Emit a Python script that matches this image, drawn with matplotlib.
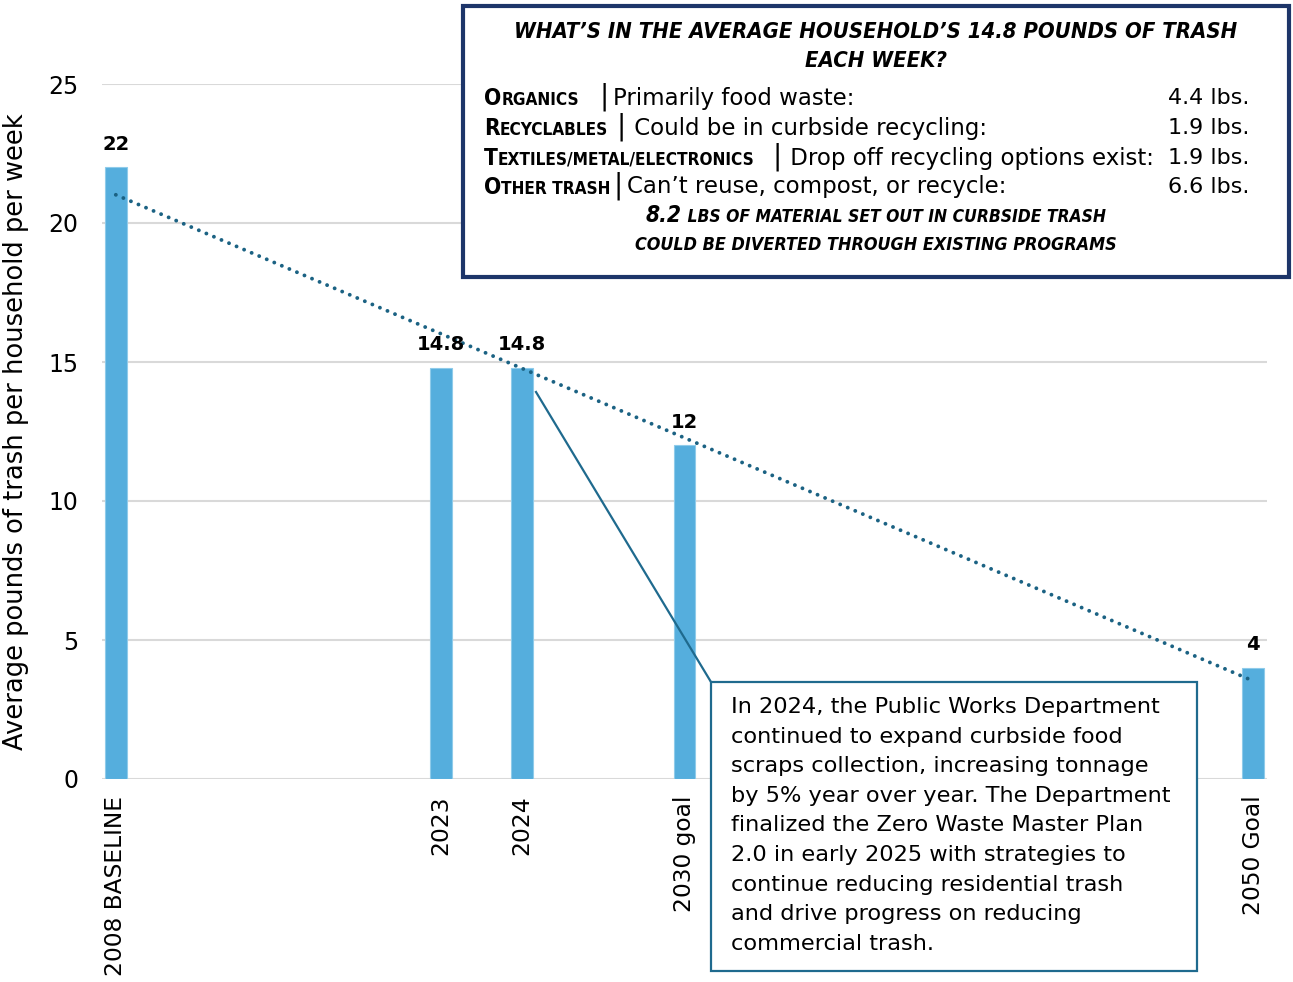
import numpy as np
import matplotlib
matplotlib.use("Agg")
import matplotlib.pyplot as plt
from matplotlib.patches import Rectangle
from matplotlib.lines import Line2D
from matplotlib.text import Annotation

# ---- data -------------------------------------------------------------
# Category slots along the x axis (blank slots keep the time spacing)
slot_labels = ["2008 BASELINE", "", "", "", "2023", "2024", "", "2030 goal",
               "", "", "", "", "", "", "2050 Goal"]
slot_values = [22, None, None, None, 14.8, 14.8, None, 12,
               None, None, None, None, None, None, 4]
value_labels = ["22", "", "", "", "14.8", "14.8", "", "12",
                "", "", "", "", "", "", "4"]

breakdown_names = ["Organics", "Recyclables", "Textiles/metal/electronics", "Other trash"]
breakdown_desc = ["Primarily food waste:", " Could be in curbside recycling:",
                  " Drop off recycling options exist:", "Can\u2019t reuse, compost, or recycle:"]
breakdown_lbs = [4.4, 1.9, 1.9, 6.6]
diverted_lbs = 8.2

callout_text = ("In 2024, the Public Works Department\n"
                "continued to expand curbside food\n"
                "scraps collection, increasing tonnage\n"
                "by 5% year over year. The Department\n"
                "finalized the Zero Waste Master Plan\n"
                "2.0 in early 2025 with strategies to\n"
                "continue reducing residential trash\n"
                "and drive progress on reducing\n"
                "commercial trash.")

# ---- style ------------------------------------------------------------
BAR = "#55AEDD"
TREND = "#1B6283"
NAVY = "#1D3569"
CALLOUT = "#1F6A8E"
GRID = "#D9D9D9"
FONT = ["DejaVu Sans"]

W, H = 1293, 982
fig = plt.figure(figsize=(W / 100, H / 100), dpi=100)


def fx(px):
    return px / W


def fy(py):
    return 1 - py / H


ax = fig.add_axes([fx(102), fy(779), fx(1267) - fx(102), fy(84) - fy(779)])

x = np.arange(len(slot_labels))
mask = np.array([v is not None for v in slot_values])
xv = x[mask]
yv = np.array([v for v in slot_values if v is not None], dtype=float)

ax.bar(xv, yv, width=0.27, color=BAR, edgecolor="#8FCBEA", linewidth=0.8, zorder=2)

# linear trend through the bars
k, b = np.polyfit(xv, yv, 1)
tx = np.array([xv.min(), xv.max()])
ax.plot(tx, k * tx + b, color=TREND, lw=2.8, linestyle=(0, (0.01, 2.1)),
        dash_capstyle="round", zorder=3)

for xi, v, lab in zip(x, slot_values, value_labels):
    if v is None:
        continue
    ax.annotate(lab, (xi, v), xytext=(0, 10), textcoords="offset points",
                ha="center", va="bottom", fontsize=14, fontweight="bold",
                family=FONT, color="black", zorder=4)

ax.set_xlim(-0.17, 14.17)
ax.set_ylim(0, 25)
ax.set_yticks(np.arange(0, 26, 5))
ax.yaxis.grid(True, color=GRID, lw=1.5, zorder=0)
ax.set_axisbelow(True)
for s in ["top", "right", "left", "bottom"]:
    ax.spines[s].set_visible(False)
ax.tick_params(axis="y", length=0, labelsize=17, pad=17)
ax.tick_params(axis="x", length=0, pad=12)
for t in ax.get_yticklabels():
    t.set_family(FONT)

ax.set_xticks(xv)
ax.set_xticklabels([slot_labels[i] for i in xv], rotation=90, va="top",
                   ha="center", fontsize=16.8, family=FONT)
ax.set_ylabel("Average pounds of trash per household per week", fontsize=18.5,
              family=FONT, labelpad=14)

# ---- breakdown box ----------------------------------------------------
fig.patches.append(Rectangle((fx(463), fy(277)), fx(1289) - fx(463), fy(6) - fy(277),
                             transform=fig.transFigure, facecolor="white",
                             edgecolor=NAVY, lw=3, zorder=5))

COND = dict(family=FONT, fontstretch="condensed")
title_kw = dict(ha="center", va="center", fontsize=15.8, fontweight="bold",
                fontstyle="italic", zorder=6, **COND)
fig.text(fx(876), fy(32), "WHAT\u2019S IN THE AVERAGE HOUSEHOLD\u2019S 14.8 POUNDS OF TRASH",
         **title_kw)
fig.text(fx(876), fy(61), "EACH WEEK?", **title_kw)


def small_caps(px, py, word, big, small, **kw):
    """Draw a word in small caps starting at pixel (px, py) on the baseline."""
    first = fig.text(fx(px), fy(py), word[0].upper(), ha="left", va="baseline",
                     fontsize=big, zorder=6, **kw)
    rest = Annotation(word[1:].upper(), xy=(1, fy(py)),
                      xycoords=(first, "figure fraction"), ha="left",
                      va="baseline", fontsize=small, zorder=6,
                      annotation_clip=False, **kw)
    fig.add_artist(rest)
    return rest


row_y = [97, 127, 157, 186]
sep_x = [604, 621, 777, 618]
desc_x = [613, 627, 783, 627]
for name, desc, lbs, ry, sx, dx in zip(breakdown_names, breakdown_desc, breakdown_lbs,
                                       row_y, sep_x, desc_x):
    small_caps(484, ry + 8, name, 16.3, 12.3, fontweight="bold", **COND)
    fig.text(fx(sx), fy(ry), "|", ha="center", va="center", fontsize=20,
             family=FONT, zorder=6)
    fig.text(fx(dx), fy(ry + 1), desc, ha="left", va="center", fontsize=16.5,
             family=FONT, zorder=6)
    fig.text(fx(1249), fy(ry + 1), f"{lbs} lbs.", ha="right", va="center",
             fontsize=16, family=FONT, zorder=6)

foot_kw = dict(fontweight="bold", fontstyle="italic", zorder=6, **COND)
f1 = fig.text(fx(646), fy(222), f"{diverted_lbs}", ha="left", va="baseline",
              fontsize=16.3, **foot_kw)
fig.add_artist(Annotation(" LBS OF MATERIAL SET OUT IN CURBSIDE TRASH",
                          xy=(1, fy(222)), xycoords=(f1, "figure fraction"),
                          ha="left", va="baseline", fontsize=12.5,
                          annotation_clip=False, **foot_kw))
fig.text(fx(876), fy(245), "COULD BE DIVERTED THROUGH EXISTING PROGRAMS",
         ha="center", va="center", fontsize=12.9, **foot_kw)

# ---- callout ----------------------------------------------------------
fig.lines.append(Line2D([fx(536), fx(711)], [fy(392), fy(682)],
                        transform=fig.transFigure, color=CALLOUT, lw=1.6, zorder=4))
fig.patches.append(Rectangle((fx(711), fy(971)), fx(1197) - fx(711), fy(682) - fy(971),
                             transform=fig.transFigure, facecolor="white",
                             edgecolor=CALLOUT, lw=1.6, zorder=5))
fig.text(fx(731), fy(697), callout_text, ha="left", va="top", fontsize=16.2,
         family=FONT, linespacing=1.6, zorder=6)

fig.savefig("out.png", dpi=100)
